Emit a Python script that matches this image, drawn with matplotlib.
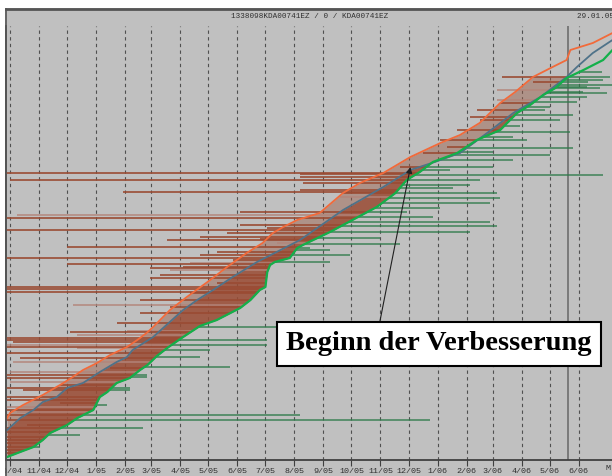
import numpy as np
import matplotlib
matplotlib.use('Agg')
import matplotlib.pyplot as plt
from matplotlib.patches import Rectangle
from matplotlib.lines import Line2D

# x = days since 01.10.2004, y = meter reading (no unit shown)
START = np.datetime64('2004-10-01')

month_labels = ['10/04', '11/04', '12/04', '1/05', '2/05', '3/05', '4/05', '5/05', '6/05',
                '7/05', '8/05', '9/05', '10/05', '11/05', '12/05', '1/06', '2/06', '3/06',
                '4/06', '5/06', '6/06']
cutoff_date = '2006-05-20'

# upper bound (orange)
orange_x = [-3, 0, 14, 35, 57, 67, 78, 93, 107, 125, 136, 146, 153, 171, 189, 214, 232, 253, 270,
            281, 292, 307, 331, 356, 374, 399, 428, 460, 481, 502, 524, 540, 559, 580, 595, 599,
            623, 644]
orange_y = [42, 47, 55, 65, 77, 83, 90, 97, 105, 113, 120, 127, 133, 150, 163, 180, 193, 207, 217,
            227, 233, 240, 247, 267, 277, 287, 303, 317, 325, 337, 357, 368, 383, 393, 400, 410,
            417, 427]

# middle (blue)
blue_x = [-3, 11, 25, 35, 50, 61, 78, 96, 114, 125, 131, 153, 185, 200, 217, 238, 264, 285, 310,
          356, 399, 428, 454, 481, 510, 538, 567, 595, 606, 623, 644]
blue_y = [30, 42, 50, 58, 63, 72, 77, 88, 98, 103, 110, 123, 150, 160, 170, 183, 198, 208, 220,
          250, 273, 290, 298, 307, 327, 347, 363, 383, 393, 407, 420]

# lower bound (green)
green_x = [-3, 8, 25, 35, 43, 61, 72, 89, 96, 104, 114, 128, 139, 147, 157, 168, 185, 203, 221,
           246, 257, 267, 273, 275, 278, 283, 299, 307, 313, 342, 366, 392, 412, 424, 438, 452,
           478, 499, 524, 542, 556, 570, 583, 595, 613, 634, 644]
green_y = [3, 7, 13, 20, 27, 35, 42, 50, 63, 68, 77, 82, 90, 95, 104, 112, 123, 134, 140, 152,
           160, 170, 173, 188, 195, 198, 202, 212, 215, 228, 240, 253, 267, 280, 288, 298, 307,
           320, 330, 347, 355, 365, 372, 382, 390, 400, 410]

# brown records: level and first day, they run up to the green bound
brown_dark_y = [287, 280, 268, 242, 230, 202, 173, 171, 168, 113, 122, 120, 107, 102, 85, 82, 75,
                72, 63, 60, 45, 40, 28, 23, 17, 13, 10, 7, 248, 220, 213, 196, 192, 160, 147, 137,
                128, 118, 235, 232, 227, 223, 221, 208, 205, 200, 193, 185, 182, 177, 167, 153,
                92, 70, 57, 50, 35, 32, 20, 383, 378, 357, 350, 343, 340, 330, 320, 313, 307,
                293, 286, 283, 277, 270, 267]
brown_dark_start = [-5, 0, 121, -5, -5, -5, -5, -5, -5, -5, -5, -5, -5, 11, -5, -5, 53, -5, -5,
                    -5, -5, -5, -5, -5, -5, -5, -5, -5, 246, 168, 61, 61, 150, 139, 139, 114, 64,
                    3, 246, 275, 232, 203, 267, 221, 203, 238, 185, 160, 150, 221, 192, 171, 107,
                    14, 53, -5, 18, -5, -5, 526, 559, 524, 499, 492, 502, 478, 460, 467, 441, 417,
                    310, 310, 313, 310, 356]
brown_light_y = [245, 155, 129, 125, 115, 112, 98, 88, 78, 53, 48, 370, 303, 217, 197, 190, 263,
                 360]
brown_light_start = [7, 67, 125, 72, -5, 72, 3, 0, 0, -5, 7, 521, 470, 285, 192, 171, 353, 521]

# green records: level and last day, they start at the green bound
gseg_y = [378, 373, 368, 363, 358, 353, 350, 345, 340, 334, 328, 323, 320, 312, 308, 305, 300,
          293, 290, 285, 280, 275, 272, 267, 262, 257, 252, 248, 243, 238, 234, 228, 222, 216,
          210, 205, 198, 212, 133, 120, 115, 110, 103, 93, 85, 83, 72, 70, 55, 45, 40, 32, 25,
          13, 388, 383, 380, 375, 372, 367]
gseg_end = [618, 617, 613, 617, 606, 577, 572, 602, 588, 545, 599, 538, 553, 602, 516, 577, 538,
            516, 470, 634, 502, 492, 474, 521, 524, 513, 460, 424, 452, 513, 521, 492, 396, 417,
            342, 363, 342, 321, 374, 275, 275, 214, 203, 235, 146, 146, 128, 128, 104, 310, 449,
            142, 75, 32, 633, 641, 634, 650, 631, 638]


def to_day(label):
    m, yy = label.split('/')
    d = np.datetime64('20%s-%02d-01' % (yy, int(m)))
    return int((d - START).astype(int))


tick_days = [to_day(l) for l in month_labels]
cutoff = int((np.datetime64(cutoff_date) - START).astype(int))

W, H = 612, 476
fig = plt.figure(figsize=(W / 100, H / 100), dpi=100, facecolor='#c0c0c0')
ax = fig.add_axes([6 / W, 16 / H, 606 / W, 434 / H])
ax.set_facecolor('#c0c0c0')
ax.set_xlim(-4.3, 643.5)
ax.set_ylim(0, 434)

# month grid
ax.vlines(tick_days, 0, 434, colors='#505050', linestyles=(0, (3, 3)), lw=0.8, zorder=1)
ax.axvline(cutoff, color='#7a7a7a', lw=1.4, zorder=1)

# dense band between the curves
yy = np.linspace(3, 383, 400)
gx = np.interp(yy, green_y, green_x)
bx = np.interp(yy, blue_y, blue_x)
ox = np.interp(yy, orange_y, orange_x)
ax.fill_betweenx(yy, ox, gx, color='#9a5a44', alpha=0.45, lw=0, zorder=2)
ax.fill_betweenx(yy, bx, gx, color='#9a4b33', alpha=0.75, lw=0, zorder=2)

ax.hlines(brown_light_y, brown_light_start, np.interp(brown_light_y, green_y, green_x),
          colors='#b3857a', lw=1.4, alpha=0.75, zorder=3)
ax.hlines(brown_dark_y, brown_dark_start, np.interp(brown_dark_y, green_y, green_x),
          colors='#9a4b33', lw=1.4, alpha=0.85, zorder=3)
ax.hlines(gseg_y, np.interp(gseg_y, green_y, green_x), gseg_end,
          colors='#2e7a4a', lw=1.4, alpha=0.7, zorder=3)

ax.plot(orange_x, orange_y, color='#f26a3a', lw=1.3, zorder=5)
ax.plot(blue_x, blue_y, color='#4f7289', lw=1.3, zorder=5)
ax.plot(green_x, green_y, color='#13b04a', lw=1.6, zorder=5)

ax.set_xticks(tick_days)
ax.set_xticklabels(month_labels, fontsize=6, family='Liberation Mono', color='#303030')
ax.tick_params(axis='x', length=4, width=0.8, color='#404040', pad=2)
ax.set_yticks([])
for s in ['top', 'right']:
    ax.spines[s].set_visible(False)
ax.spines['bottom'].set_color('#404040')
ax.spines['bottom'].set_linewidth(1.3)
ax.spines['left'].set_color('#505050')
ax.spines['left'].set_linewidth(1.3)

ax.annotate('Beginn der Verbesserung', xy=(428, 293), xycoords='data',
            xytext=(439, H - 344), textcoords='figure pixels',
            ha='center', va='center', fontsize=20.5, fontweight='bold',
            family='Liberation Serif', color='black', zorder=10,
            bbox=dict(boxstyle='square,pad=0.33', fc='white', ec='black', lw=1.5),
            arrowprops=dict(arrowstyle='-|>', relpos=(0.3, 1.0), color='#202020',
                            lw=0.8, mutation_scale=9, shrinkA=0, shrinkB=0))

# header strip
fig.text(310 / W, 1 - 17 / H, '1338098KDA00741EZ / 0 / KDA00741EZ', ha='center', va='center',
         fontsize=5.5, family='Liberation Mono', color='#303030')
fig.text(577 / W, 1 - 17 / H, '29.01.05 2', ha='left', va='center',
         fontsize=5.5, family='Liberation Mono', color='#303030')
fig.text(605 / W, 1 - 469 / H, 'M', ha='left', va='center',
         fontsize=6, family='Liberation Mono', color='#303030')

# white margins and frame
fig.add_artist(Rectangle((0, 1 - 8 / H), 1, 8 / H, transform=fig.transFigure,
                         fc='white', ec='none', zorder=20))
fig.add_artist(Rectangle((0, 0), 5 / W, 1, transform=fig.transFigure,
                         fc='white', ec='none', zorder=20))
fig.add_artist(Line2D([5.5 / W, 1], [1 - 9 / H, 1 - 9 / H], transform=fig.transFigure,
                      color='#555555', lw=2, zorder=21))
fig.add_artist(Line2D([5.5 / W, 5.5 / W], [0, 1 - 9 / H], transform=fig.transFigure,
                      color='#555555', lw=1.2, zorder=21))

fig.savefig('out.png', dpi=100, facecolor=fig.get_facecolor())
